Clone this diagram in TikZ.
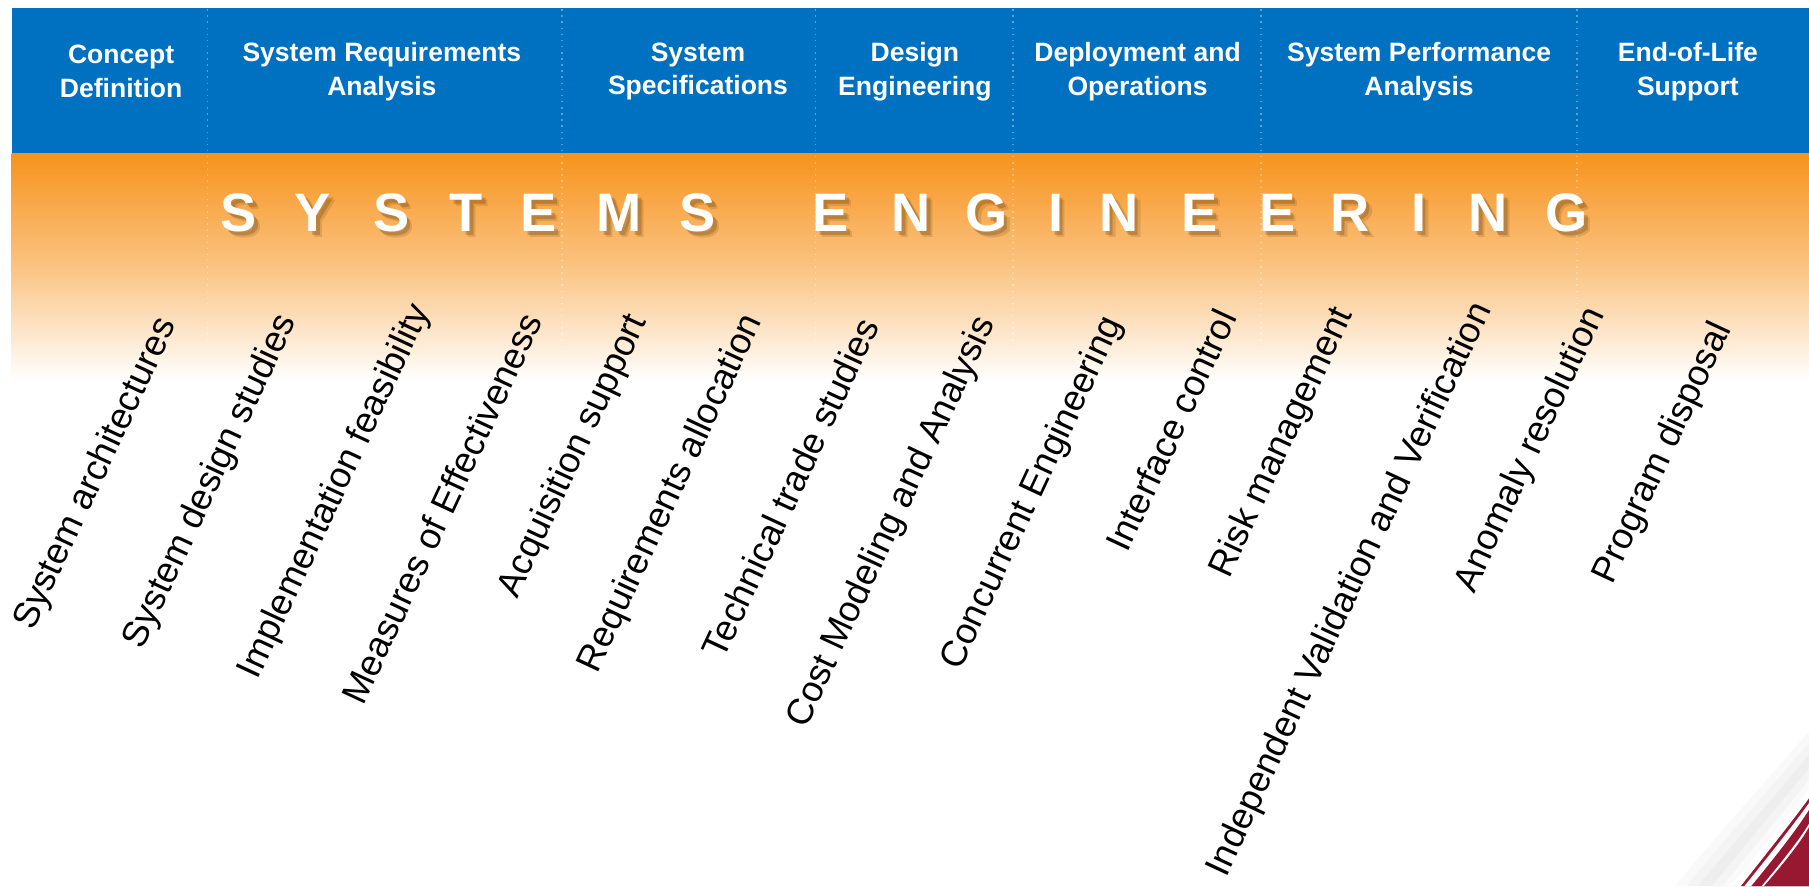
\documentclass[tikz,border=0pt]{standalone}
\usepackage{fontspec}
\setmainfont{Liberation Sans}
\definecolor{hdrblue}{RGB}{0,112,192}
\definecolor{sorange}{RGB}{247,147,29}
\definecolor{swred}{RGB}{152,24,50}
\definecolor{shadowc}{RGB}{110,70,20}
\begin{document}
\begin{tikzpicture}[x=1pt,y=-1pt,
  phase/.style={text=white, font=\bfseries\fontsize{23}{29}\selectfont, align=center, inner sep=0pt},
  bigletter/.style={text=white, font=\bfseries\fontsize{47}{50}\selectfont, anchor=base, inner sep=0pt},
  shadowletter/.style={text=shadowc, font=\bfseries\fontsize{47}{50}\selectfont, anchor=base, inner sep=0pt},
  activity/.style={font=\fontsize{31.5}{36}\selectfont, anchor=base east, rotate=65, inner sep=0pt},
  sepline/.style={white, opacity=0.35, line width=1.3pt, dash pattern=on 1.3pt off 4pt}]
\useasboundingbox (0,0) rectangle (1568,768);
\fill[white] (0,0) rectangle (1568,768);
% bands
\fill[hdrblue] (10,7) rectangle (1568,133);
\shade[top color=sorange, bottom color=white, middle color=sorange!55!white] (10,133) rectangle (1568,330);
% separators
\foreach \x in {180,487,707,878,1093,1367}
  \draw[sepline] (\x,8) -- (\x,300);
% phase titles
\node[phase] (p1) at (105,62) {Concept\\Definition};
\node[phase] (p2) at (331,62) {System Requirements\\Analysis};
\node[phase] (p3) at (605,62) {System\\Specifications};
\node[phase] (p4) at (793,62) {Design\\Engineering};
\node[phase] (p5) at (986,62) {Deployment and\\Operations};
\node[phase] (p6) at (1230,62) {System Performance\\Analysis};
\node[phase] (p7) at (1463,62) {End-of-Life\\Support};
% SYSTEMS ENGINEERING
\foreach \l/\x [count=\i] in {S/207,Y/271,S/339,T/404,E/467,M/537,S/605,E/720,N/790,G/855,I/915,N/970,E/1040,E/1107,R/1170,I/1230,N/1290,G/1358}{
  \node[shadowletter, opacity=0.18] (sa\i) at (\x+5,206) {\l};
  \node[shadowletter, opacity=0.3] (sb\i) at (\x+3,204) {\l};
  \node[bigletter] (L\i) at (\x,201) {\l};
}
% activities
\foreach \t/\x/\y [count=\i] in {
  System architectures/153/281,
  System design studies/257/278,
  Implementation feasibility/373/269,
  Measures of Effectiveness/471/278,
  Acquisition support/561/278,
  Requirements allocation/661/278,
  Technical trade studies/763/282,
  Cost Modeling and Analysis/863/280,
  Concurrent Engineering/973/280,
  Interface control/1073/275,
  Risk management/1173/272,
  Independent Validation and Verification/1293/268,
  Anomaly resolution/1391/272,
  Program disposal/1501/285}
  \node[activity] (a\i) at (\x,\y) {\t};
% swoosh
\fill[gray!5] (1452,768) .. controls (1495,716) and (1532,676) .. (1568,634) -- (1568,768) -- cycle;
\fill[gray!9] (1462,768) .. controls (1502,719) and (1536,681) .. (1568,644) -- (1568,768) -- cycle;
\fill[gray!13] (1472,768) .. controls (1510,722) and (1540,688) .. (1568,654) -- (1568,768) -- cycle;
\fill[gray!9] (1484,768) .. controls (1518,726) and (1545,694) .. (1568,666) -- (1568,768) -- cycle;
\fill[gray!4] (1493,768) .. controls (1525,729) and (1549,700) .. (1568,676) -- (1568,768) -- cycle;
\fill[white] (1500,768) .. controls (1530,732) and (1552,704) .. (1568,684) -- (1568,768) -- cycle;
\fill[swred] (1509,768) .. controls (1535,735) and (1555,710) .. (1568,692) -- (1568,768) -- cycle;
\fill[white] (1512,768) .. controls (1537,737) and (1556,713) .. (1568,696) -- (1568,768) -- cycle;
\fill[swred] (1518,768) .. controls (1541,740) and (1558,718) .. (1568,702) -- (1568,768) -- cycle;
\fill[white] (1527,768) .. controls (1547,744) and (1561,726) .. (1568,714) -- (1568,768) -- cycle;
\fill[swred] (1529,768) .. controls (1549,745) and (1562,728) .. (1568,717) -- (1568,768) -- cycle;
\end{tikzpicture}
\end{document}
